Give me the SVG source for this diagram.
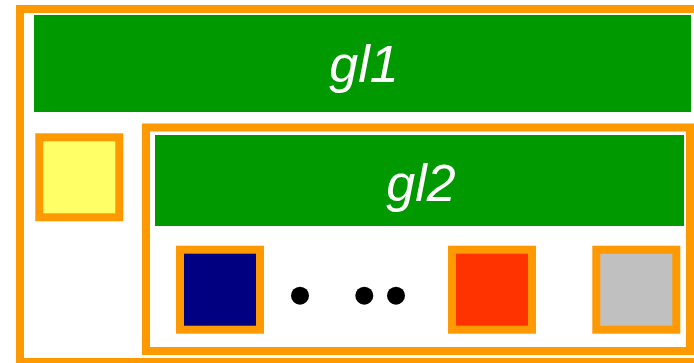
<svg xmlns="http://www.w3.org/2000/svg" width="694" height="363" viewBox="0 0 694 363">
  <style>
    .frame { fill: none; stroke: #ff9900; stroke-width: 8; }
    .band { fill: #009900; }
    .label { fill: #ffffff; font-family: "Liberation Sans", Arial, sans-serif; font-style: italic; font-size: 52px; text-anchor: middle; }
    .box { stroke: #ff9900; stroke-width: 8; }
    .dot { fill: #000000; }
  </style>
  <rect width="694" height="363" fill="#ffffff"/>
  <g id="gl1">
    <rect class="frame" x="20" y="9" width="690" height="353"/>
    <rect class="band" x="34" y="15" width="657" height="97"/>
    <text class="label" x="364" y="82">gl1</text>
  </g>
  <g id="yellow-node">
    <rect class="box" x="39.3" y="137.3" width="80" height="80" fill="#ffff66"/>
  </g>
  <g id="gl2">
    <rect class="frame" x="146" y="127.5" width="544" height="223.5"/>
    <rect class="band" x="155" y="135" width="529" height="91"/>
    <text class="label" x="421" y="200.7">gl2</text>
  </g>
  <g id="navy-node">
    <rect class="box" x="180" y="249.7" width="80" height="80" fill="#000080"/>
  </g>
  <g id="ellipsis">
    <circle class="dot" cx="300" cy="295.7" r="9"/>
    <circle class="dot" cx="364.3" cy="295.7" r="9"/>
    <circle class="dot" cx="396" cy="295.7" r="9"/>
  </g>
  <g id="red-node">
    <rect class="box" x="452" y="249.7" width="80" height="80" fill="#ff3300"/>
  </g>
  <g id="gray-node">
    <rect class="box" x="596.3" y="249.7" width="80" height="80" fill="#c0c0c0"/>
  </g>
  <g id="connectors"></g>
</svg>
